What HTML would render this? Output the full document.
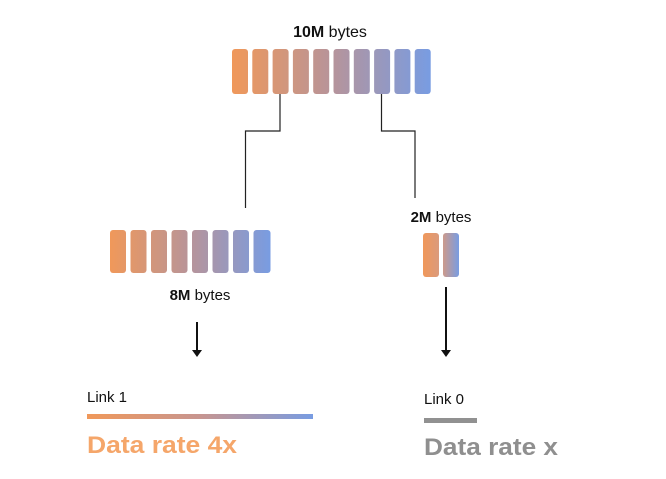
<!DOCTYPE html>
<html><head><style>
html,body{margin:0;padding:0;background:#fff;}
svg{display:block;}
text{font-family:"Liberation Sans",sans-serif;}
</style></head><body>
<svg width="666" height="479" viewBox="0 0 666 479" xmlns="http://www.w3.org/2000/svg">
<defs>
<linearGradient id="g1" gradientUnits="userSpaceOnUse" x1="232" y1="0" x2="431" y2="0"><stop offset="0" stop-color="#f0985a"/><stop offset="0.5" stop-color="#b7949a"/><stop offset="1" stop-color="#789ce2"/></linearGradient>
<linearGradient id="g2" gradientUnits="userSpaceOnUse" x1="110" y1="0" x2="271" y2="0"><stop offset="0" stop-color="#f0985a"/><stop offset="0.5" stop-color="#b7949a"/><stop offset="1" stop-color="#789ce2"/></linearGradient>
<linearGradient id="g3" gradientUnits="userSpaceOnUse" x1="423" y1="0" x2="459" y2="0"><stop offset="0" stop-color="#f0985a"/><stop offset="0.5" stop-color="#d89a80"/><stop offset="1" stop-color="#789ce2"/></linearGradient>
<linearGradient id="g4" gradientUnits="userSpaceOnUse" x1="87" y1="0" x2="313" y2="0"><stop offset="0" stop-color="#f0985a"/><stop offset="0.5" stop-color="#c79590"/><stop offset="1" stop-color="#789ce2"/></linearGradient>
</defs>
<text x="330" y="37" text-anchor="middle" font-size="16" fill="#111"><tspan font-weight="bold">10M</tspan> bytes</text>
<g fill="url(#g1)">
<rect x="232" y="49" width="16" height="45" rx="3"/>
<rect x="252.3" y="49" width="16" height="45" rx="3"/>
<rect x="272.6" y="49" width="16" height="45" rx="3"/>
<rect x="292.9" y="49" width="16" height="45" rx="3"/>
<rect x="313.2" y="49" width="16" height="45" rx="3"/>
<rect x="333.5" y="49" width="16" height="45" rx="3"/>
<rect x="353.8" y="49" width="16" height="45" rx="3"/>
<rect x="374.1" y="49" width="16" height="45" rx="3"/>
<rect x="394.4" y="49" width="16" height="45" rx="3"/>
<rect x="414.7" y="49" width="16" height="45" rx="3"/>
</g>
<polyline points="280,94 280,131 245.5,131 245.5,208" fill="none" stroke="#222" stroke-width="1.2"/>
<polyline points="381.5,94 381.5,131 415,131 415,198" fill="none" stroke="#222" stroke-width="1.2"/>
<g fill="url(#g2)">
<rect x="110" y="230" width="16" height="43" rx="3"/>
<rect x="130.5" y="230" width="16" height="43" rx="3"/>
<rect x="151" y="230" width="16" height="43" rx="3"/>
<rect x="171.5" y="230" width="16" height="43" rx="3"/>
<rect x="192" y="230" width="16" height="43" rx="3"/>
<rect x="212.5" y="230" width="16" height="43" rx="3"/>
<rect x="233" y="230" width="16" height="43" rx="3"/>
<rect x="253.5" y="230" width="17" height="43" rx="3"/>
</g>
<text x="200" y="300" text-anchor="middle" font-size="15" fill="#111"><tspan font-weight="bold">8M</tspan> bytes</text>
<text x="441" y="222" text-anchor="middle" font-size="15" fill="#111"><tspan font-weight="bold">2M</tspan> bytes</text>
<g fill="url(#g3)">
<rect x="423" y="233" width="16" height="44" rx="3"/>
<rect x="443" y="233" width="16" height="44" rx="3"/>
</g>
<line x1="197" y1="322" x2="197" y2="352" stroke="#111" stroke-width="2"/>
<polygon points="192,350 202,350 197,357" fill="#111"/>
<line x1="446" y1="287" x2="446" y2="352" stroke="#111" stroke-width="2"/>
<polygon points="441,350 451,350 446,357" fill="#111"/>
<text x="87" y="402" font-size="15" fill="#111">Link 1</text>
<rect x="87" y="414" width="226" height="5" fill="url(#g4)"/>
<text x="87" y="453" font-size="24" font-weight="bold" fill="#f5a66a" textLength="150" lengthAdjust="spacingAndGlyphs">Data rate 4x</text>
<text x="424" y="404" font-size="15" fill="#111">Link 0</text>
<rect x="424" y="418" width="53" height="5" fill="#919191"/>
<text x="424" y="455" font-size="24" font-weight="bold" fill="#8f8f8f" textLength="134" lengthAdjust="spacingAndGlyphs">Data rate x</text>
</svg>
</body></html>
